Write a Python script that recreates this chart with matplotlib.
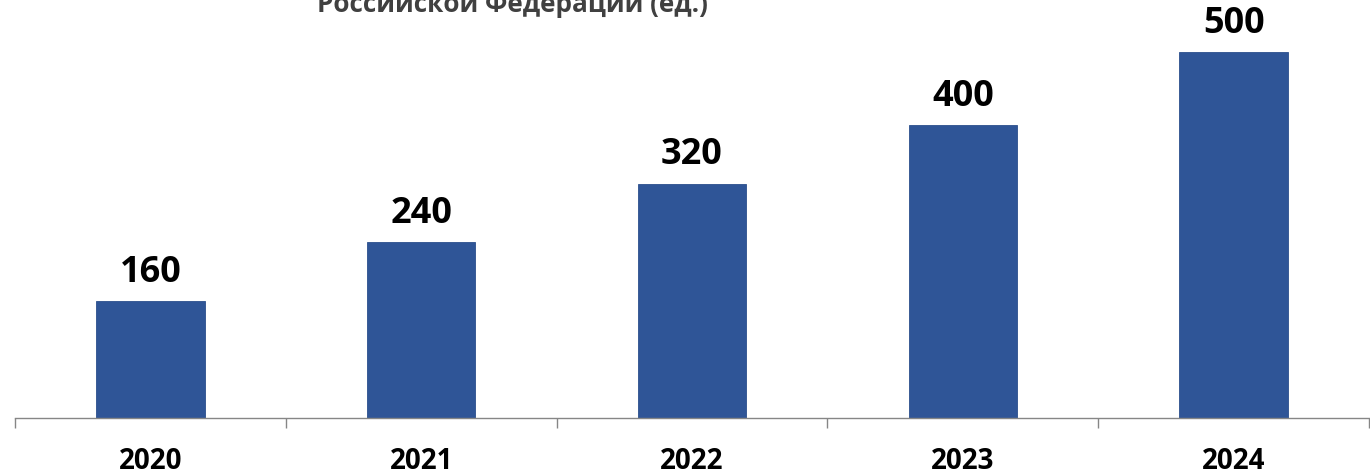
import matplotlib.pyplot as plt
from matplotlib.ticker import FixedLocator

years = ['2020', '2021', '2022', '2023', '2024']
counts = [160, 240, 320, 400, 500]
title_text = 'Российской Федерации (ед.)'

FONT = ['Open Sans', 'DejaVu Sans']
W, H = 1370, 477
fig = plt.figure(figsize=(W / 100, H / 100), dpi=100)

# axes placed in pixel terms: baseline at y=419, from x=15 to x=1369
ax = fig.add_axes([15 / W, (H - 419) / H, (1369 - 15) / W, 419 / H])

x = range(len(years))
ax.bar(x, counts, width=0.4, color='#2F5597', edgecolor='#2B4F8C', linewidth=0.6)

ax.set_xlim(-0.5, len(years) - 0.5)
ax.set_ylim(0, 572)

# value labels above the bars
for xi, v in zip(x, counts):
    ax.annotate(str(v), (xi, v), xytext=(0, 8), textcoords='offset points',
                ha='center', va='bottom', fontsize=26, fontweight='bold',
                family=FONT, color='black')

ax.set_xticks(list(x))
ax.set_xticklabels(years, fontsize=20, fontweight='bold', family=FONT)
ax.tick_params(axis='x', which='major', length=0, pad=20)
ax.xaxis.set_minor_locator(FixedLocator([i - 0.5 for i in range(len(years) + 1)]))
ax.tick_params(axis='x', which='minor', length=7.2, width=1, color='#868686', direction='out')

ax.set_yticks([])
for side in ['left', 'right', 'top']:
    ax.spines[side].set_visible(False)
ax.spines['bottom'].set_color('#868686')
ax.spines['bottom'].set_linewidth(1)

# the title sits partly above the top edge of the picture, as in the original
title = fig.text(512 / W, (H - 12) / H, title_text, ha='center', va='baseline',
                 fontsize=24, fontweight='bold', color='#404040', family=FONT)
fig.canvas.draw()
w = title.get_window_extent().width
title.set_fontsize(24 * 392 / w)

fig.savefig('out.png', dpi=100)
